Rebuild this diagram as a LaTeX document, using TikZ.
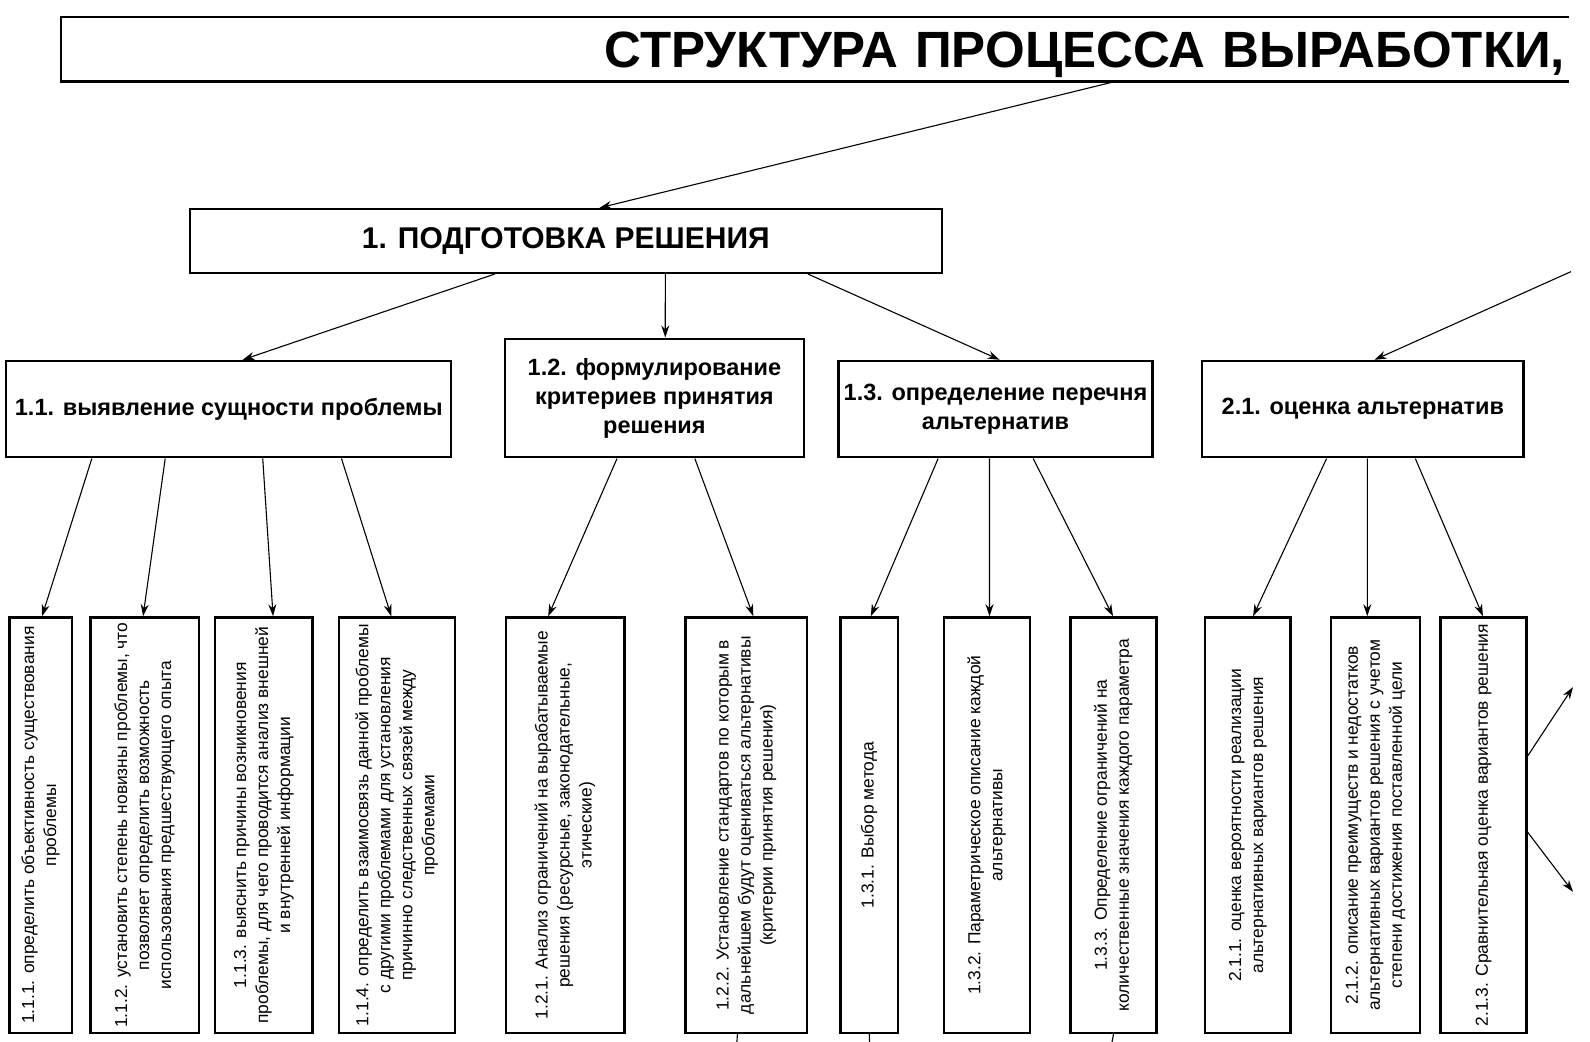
\documentclass[tikz,border=0pt]{standalone}
\usepackage{fontspec}
\setmainfont{Liberation Sans}
\usepackage{graphicx}
\usetikzlibrary{arrows.meta,calc}

\newcommand\unitpx{1.0135pt}
\tikzset{
  box/.style={draw, line width=2.4pt, anchor=north west, inner sep=2pt, align=center},
  headbox/.style={box, font=\bfseries\fontsize{30}{34}\selectfont},
  midbox/.style={box, font=\bfseries\fontsize{23.5}{29}\selectfont, minimum height=95*\unitpx},
  leafbox/.style={box, minimum height=410*\unitpx},
  link/.style={line width=1.1pt, -{Stealth[length=12pt,width=8pt]}},
}
\newcommand\leaftext[1]{\rotatebox{90}{\fontsize{17.4}{22}\selectfont\begin{tabular}{@{}c@{}}#1\end{tabular}}}

\begin{document}
\begin{tikzpicture}[x=\unitpx,y=-\unitpx]
		%%%%% START %%%%%
		\useasboundingbox (0,0) rectangle (1568.8,1028.1);
		
		% title, cut off at the right
		\node[anchor=north west, minimum width=1488*\unitpx, minimum height=63*\unitpx, text width=1500pt, align=right,
		      text height=37pt, text depth=0pt,
		      font=\bfseries\fontsize{51}{51}\selectfont] (title) at (60,17) {СТРУКТУРА ПРОЦЕССА ВЫРАБОТКИ,};
		\draw[line width=2.4pt] (title.north east) -- (title.north west) -- (title.south west) -- (title.south east);
		
		\node[headbox, minimum width=742*\unitpx, minimum height=63*\unitpx] (p1) at (186,205) {1. ПОДГОТОВКА РЕШЕНИЯ};
		
		\node[midbox, minimum width=439*\unitpx] (p11) at (5,355) {1.1. выявление сущности проблемы};
		\node[midbox, minimum width=295*\unitpx, minimum height=117*\unitpx] (p12) at (497,333) {1.2. формулирование\\критериев принятия\\решения};
		\node[midbox, minimum width=310*\unitpx] (p13) at (826,355) {1.3. определение перечня\\альтернатив};
		\node[midbox, minimum width=317*\unitpx] (p21) at (1185,355) {2.1. оценка альтернатив};
		
		\node[leafbox, minimum width=62*\unitpx] (l111) at (8,608) {\leaftext{1.1.1. определить объективность существования\\проблемы}};
		\node[leafbox, minimum width=107*\unitpx] (l112) at (88,608) {\leaftext{1.1.2. установить степень новизны проблемы, что\\позволяет определить возможность\\использования предшествующего опыта}};
		\node[leafbox, minimum width=96*\unitpx] (l113) at (211,608) {\leaftext{1.1.3. выяснить причины возникновения\\проблемы, для чего проводится анализ внешней\\и внутренней информации}};
		\node[leafbox, minimum width=115*\unitpx] (l114) at (333,608) {\leaftext{1.1.4. определить взаимосвязь данной проблемы\\с другими проблемами для установления\\причинно следственных связей между\\проблемами}};
		\node[leafbox, minimum width=117*\unitpx] (l121) at (498,608) {\leaftext{1.2.1. Анализ ограничений на вырабатываемые\\решения (ресурсные, законодательные,\\этические)}};
		\node[leafbox, minimum width=120*\unitpx] (l122) at (675,608) {\leaftext{1.2.2. Установление стандартов по которым в\\дальнейшем будут оцениваться альтернативы\\(критерии принятия решения)}};
		\node[leafbox, minimum width=57*\unitpx] (l131) at (828,608) {\leaftext{1.3.1. Выбор метода}};
		\node[leafbox, minimum width=85*\unitpx] (l132) at (930,608) {\leaftext{1.3.2. Параметрическое описание каждой\\альтернативы}};
		\node[leafbox, minimum width=85*\unitpx] (l133) at (1055,608) {\leaftext{1.3.3. Определение ограничений на\\количественные значения каждого параметра}};
		\node[leafbox, minimum width=84*\unitpx] (l211) at (1188,608) {\leaftext{2.1.1. оценка вероятности реализации\\альтернативных вариантов решения}};
		\node[leafbox, minimum width=88*\unitpx] (l212) at (1312,608) {\leaftext{2.1.2. описание преимуществ и недостатков\\альтернативных вариантов решения с учетом\\степени достижения поставленной цели}};
		\node[leafbox, minimum width=85*\unitpx] (l213) at (1420,608) {\leaftext{2.1.3. Сравнительная оценка вариантов решения}};
		
		% free ends at the page border
		\coordinate (in21) at (1550,268);
		\coordinate (out1) at (1552,678);
		\coordinate (out2) at (1552,880);
		\coordinate (down122) at (727,1029);
		\coordinate (down131) at (858,1029);
		\coordinate (down133) at (1097,1029);
		
		\draw[link] ($(title.south west)!.699!(title.south east)$) -- ($(p1.north west)!.545!(p1.north east)$);
		\draw[link] ($(p1.south west)!.406!(p1.south east)$) -- ($(p11.north west)!.531!(p11.north east)$);
		\draw[link] ($(p1.south west)!.632!(p1.south east)$) -- ($(p12.north west)!.536!(p12.north east)$);
		\draw[link] ($(p1.south west)!.821!(p1.south east)$) -- ($(p13.north west)!.513!(p13.north east)$);
		\draw[link] (in21) -- ($(p21.north west)!.536!(p21.north east)$);
		
		\foreach \a/\f/\b/\g in {p11/.194/l111/.52, p11/.358/l112/.486, p11/.576/l113/.594, p11/.752/l114/.452,
		                         p12/.376/l121/.359, p12/.634/l122/.558,
		                         p13/.319/l131/.526, p13/.481/l132/.53, p13/.619/l133/.494,
		                         p21/.388/l211/.56, p21/.514/l212/.41, p21/.662/l213/.494}
		  \draw[link] ($(\a.south west)!\f!(\a.south east)$) -- ($(\b.north west)!\g!(\b.north east)$);
		
		\draw[link] ($(l213.north east)!.334!(l213.south east)$) -- (out1);
		\draw[link] ($(l213.north east)!.517!(l213.south east)$) -- (out2);
		
		% lines leaving the page at the bottom
		\draw[line width=1.1pt] ($(l122.south west)!.43!(l122.south east)$) -- (down122);
		\draw[line width=1.1pt] (l131.south) -- (down131);
		\draw[line width=1.1pt] (l133.south) -- (down133);
		%%%%% END %%%%%
\end{tikzpicture}
\end{document}
